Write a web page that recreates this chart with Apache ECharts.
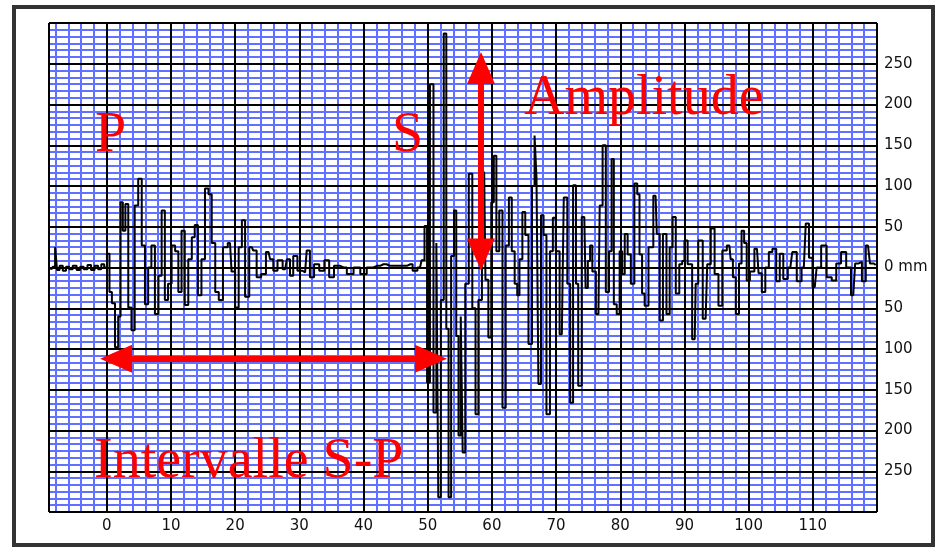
<!DOCTYPE html>
<html>
<head>
<meta charset="utf-8">
<script src="https://cdn.jsdelivr.net/npm/echarts@6/dist/echarts.min.js"></script>
<style>
html,body{margin:0;padding:0;background:#fff;}
#chart{width:938px;height:553px;}
</style>
</head>
<body>
<div id="chart"></div>
<script>
// ---- data (time in s, amplitude in mm) ----
const sampleTimes = [
  -9,-8.6,-8.2,-7.9,-7.6,-7.1,-6.6,-6.1,-5.6,-5.0,-4.4,-3.9,-3.3,-2.7,-2.2,-1.6,-1.1,-0.6,-0.2,
  0.25,0.6,1.0,1.56,2.0,2.3,2.7,3.1,3.6,4.1,4.6,5.2,5.7,6.2,6.7,7.2,7.8,8.3,8.8,9.3,9.8,
  10.4,10.9,11.4,11.9,12.4,13.0,13.5,13.9,14.5,15.0,15.6,16.1,16.6,17.2,17.7,18.5,19.2,19.7,
  20.3,20.8,21.3,21.8,22.6,23.0,23.7,24.4,25.2,25.7,26.2,27.0,27.8,28.3,28.8,29.3,
  30.1,30.9,31.4,31.9,32.7,33.5,34.3,35.0,35.8,36.9,37.9,39.0,40.0,41.0,42.1,43.1,44.1,
  45.2,46.2,47.3,48.0,48.8,49.3,49.7,
  50.1,50.6,51.2,51.5,51.8,52.3,52.7,53.1,53.4,53.9,54.3,54.6,55.0,55.3,55.6,56.1,56.7,
  57.2,57.7,58.1,58.8,59.2,59.7,60.1,60.5,60.9,61.4,61.9,62.4,62.9,63.3,63.8,64.1,64.5,
  65.0,65.4,66.0,66.5,66.8,67.1,67.4,67.9,68.2,68.8,69.3,69.7,70.2,70.9,71.5,72.0,72.4,
  72.9,73.3,73.6,74.4,74.8,75.1,75.5,75.8,76.6,77.0,77.5,78.0,78.5,78.8,79.2,79.7,
  80.1,80.5,80.9,81.4,81.9,82.5,82.8,83.2,83.6,84.0,84.8,85.5,85.9,86.4,86.9,87.5,87.9,
  88.4,88.9,89.5,89.8,90.2,90.8,91.6,91.9,92.4,93.3,93.8,94.4,95.0,95.6,96.2,97.0,97.4,
  97.7,98.3,98.7,99.1,99.5,99.9,100.5,101.3,101.8,102.3,102.9,103.4,104.0,104.6,105.1,
  105.7,106.5,107.1,107.9,108.6,109.2,109.6,110.3,110.9,111.7,112.6,113.3,114.0,114.8,
  115.6,116.3,116.9,117.4,117.9,118.6,119.2,119.8
];
const amplitudes = [
  0,-2,1,25,-3,2,-4,1,-2,2,-3,1,-2,3,-3,2,-2,4,0,
  17,-30,-44,-98,-60,80,45,78,-49,-77,76,109,27,-45,0,27,-57,-10,70,-40,-20,
  27,20,-30,45,-46,10,37,52,-34,10,97,90,30,-30,-40,25,30,-5,
  -49,25,58,-36,25,21,-12,-8,19,10,-4,9,-2,10,-10,14,
  -4,-6,21,-12,4,-4,9,-12,2,0,-8,0,-8,0,2,4,2,
  2,2,4,-4,0,9,51,
  -141,225,-178,30,-282,-40,287,-75,-282,14,70,-84,-206,-60,-227,-20,115,
  -50,-180,-40,117,-15,-86,80,137,20,70,-172,27,86,20,-20,-34,10,
  68,40,-94,100,162,110,-143,64,40,-180,20,61,20,-82,86,-20,-166,
  101,-20,-145,62,-25,8,27,-5,-57,76,150,-30,20,133,-45,-57,
  20,-8,41,16,-20,103,90,16,-32,-47,25,88,41,-65,41,-57,25,
  62,-32,4,8,33,4,-88,-20,33,-63,4,48,-8,-47,21,27,10,
  -12,-57,5,45,30,-16,-5,23,-7,-30,0,19,23,-17,17,
  -14,0,19,-17,0,54,12,-24,0,27,-12,-16,5,19,
  0,-34,5,7,-17,27,5,3
];
const xTickValues = [0,10,20,30,40,50,60,70,80,90,100,110];
const xRange = [-9, 120];
const yRange = [-300, 300];
const yUnit = 'mm';
const annotationTexts = ['P', 'S', 'Amplitude', 'Intervalle S-P'];
const spArrow = [[1.45, -112], [50.5, -112]];
const ampArrow = [[58.3, 244.8], [58.3, 16]];

const seriesData = sampleTimes.map((t, i) => [t, amplitudes[i]]);

const chart = echarts.init(document.getElementById('chart'));
const GRID = {left: 49, top: 23, right: 61, bottom: 41};
const minorBlue = '#6070ff';
const labelFont = {fontFamily: 'DejaVu Sans', fontSize: 15, color: '#111'};
const tri = 'path://M0,0L10,20L-10,20Z';
const redFont = '56px "Liberation Serif"';

chart.setOption({
  animation: false,
  backgroundColor: '#fff',
  grid: Object.assign({containLabel: false, show: true, backgroundColor: '#fff', borderWidth: 0}, GRID),
  xAxis: [
    {
      type: 'value', min: xRange[0], max: xRange[1], minInterval: 10, maxInterval: 10,
      axisLine: {show: false}, axisTick: {show: false},
      axisLabel: Object.assign({margin: 7, showMinLabel: false, showMaxLabel: false,
        formatter: v => xTickValues.indexOf(v) >= 0 ? String(v) : ''}, labelFont),
      splitLine: {show: false},
      minorTick: {show: false, splitNumber: 5},
      minorSplitLine: {show: true, lineStyle: {color: minorBlue, width: 2}}
    },
    {
      type: 'value', min: xRange[0], max: xRange[1], minInterval: 10, maxInterval: 10,
      position: 'bottom', z: 1,
      axisLine: {show: false}, axisTick: {show: false}, axisLabel: {show: false},
      splitLine: {show: true, lineStyle: {color: '#000', width: 2}}
    }
  ],
  yAxis: [
    {
      type: 'value', min: yRange[0], max: yRange[1], interval: 50, position: 'right',
      axisLine: {show: false}, axisTick: {show: false},
      axisLabel: Object.assign({margin: 7, showMinLabel: false, showMaxLabel: false,
        formatter: v => v === 0 ? '0 ' + yUnit : String(Math.abs(v))}, labelFont),
      splitLine: {show: false},
      minorTick: {show: false, splitNumber: 6},
      minorSplitLine: {show: true, lineStyle: {color: minorBlue, width: 2}}
    },
    {
      type: 'value', min: yRange[0], max: yRange[1], interval: 50, position: 'right', z: 1,
      axisLine: {show: false}, axisTick: {show: false}, axisLabel: {show: false},
      splitLine: {show: true, lineStyle: {color: '#000', width: 2}}
    }
  ],
  series: [
    {
      type: 'line', xAxisIndex: 0, yAxisIndex: 0, z: 3,
      data: seriesData, step: 'middle', showSymbol: false, symbol: 'none',
      lineStyle: {color: '#000', width: 2}, silent: true
    },
    {
      type: 'line', xAxisIndex: 0, yAxisIndex: 0, z: 5, data: [], silent: true,
      markLine: {
        silent: true, animation: false,
        symbol: [tri, tri], symbolSize: [28, 32],
        label: {show: false},
        lineStyle: {color: '#ff0000', width: 6, type: 'solid'},
        emphasis: {disabled: true},
        data: [
          [{coord: spArrow[0]}, {coord: spArrow[1]}],
          [{coord: ampArrow[0]}, {coord: ampArrow[1]}]
        ]
      }
    }
  ],
  graphic: [
    {type: 'rect', z: 100, silent: true, shape: {x: 14, y: 7, width: 919, height: 538},
     style: {fill: 'none', stroke: '#333', lineWidth: 4}},
    {type: 'text', z: 100, x: 95, y: 108, style: {text: annotationTexts[0], fill: '#ff0000', font: redFont, verticalAlign: 'top'}},
    {type: 'text', z: 100, x: 392, y: 108, style: {text: annotationTexts[1], fill: '#ff0000', font: redFont, verticalAlign: 'top'}},
    {type: 'text', z: 100, x: 524, y: 71, style: {text: annotationTexts[2], fill: '#ff0000', font: redFont, verticalAlign: 'top'}},
    {type: 'text', z: 100, x: 94, y: 434, style: {text: annotationTexts[3], fill: '#ff0000', font: redFont, verticalAlign: 'top'}}
  ]
});
</script>
</body>
</html>
